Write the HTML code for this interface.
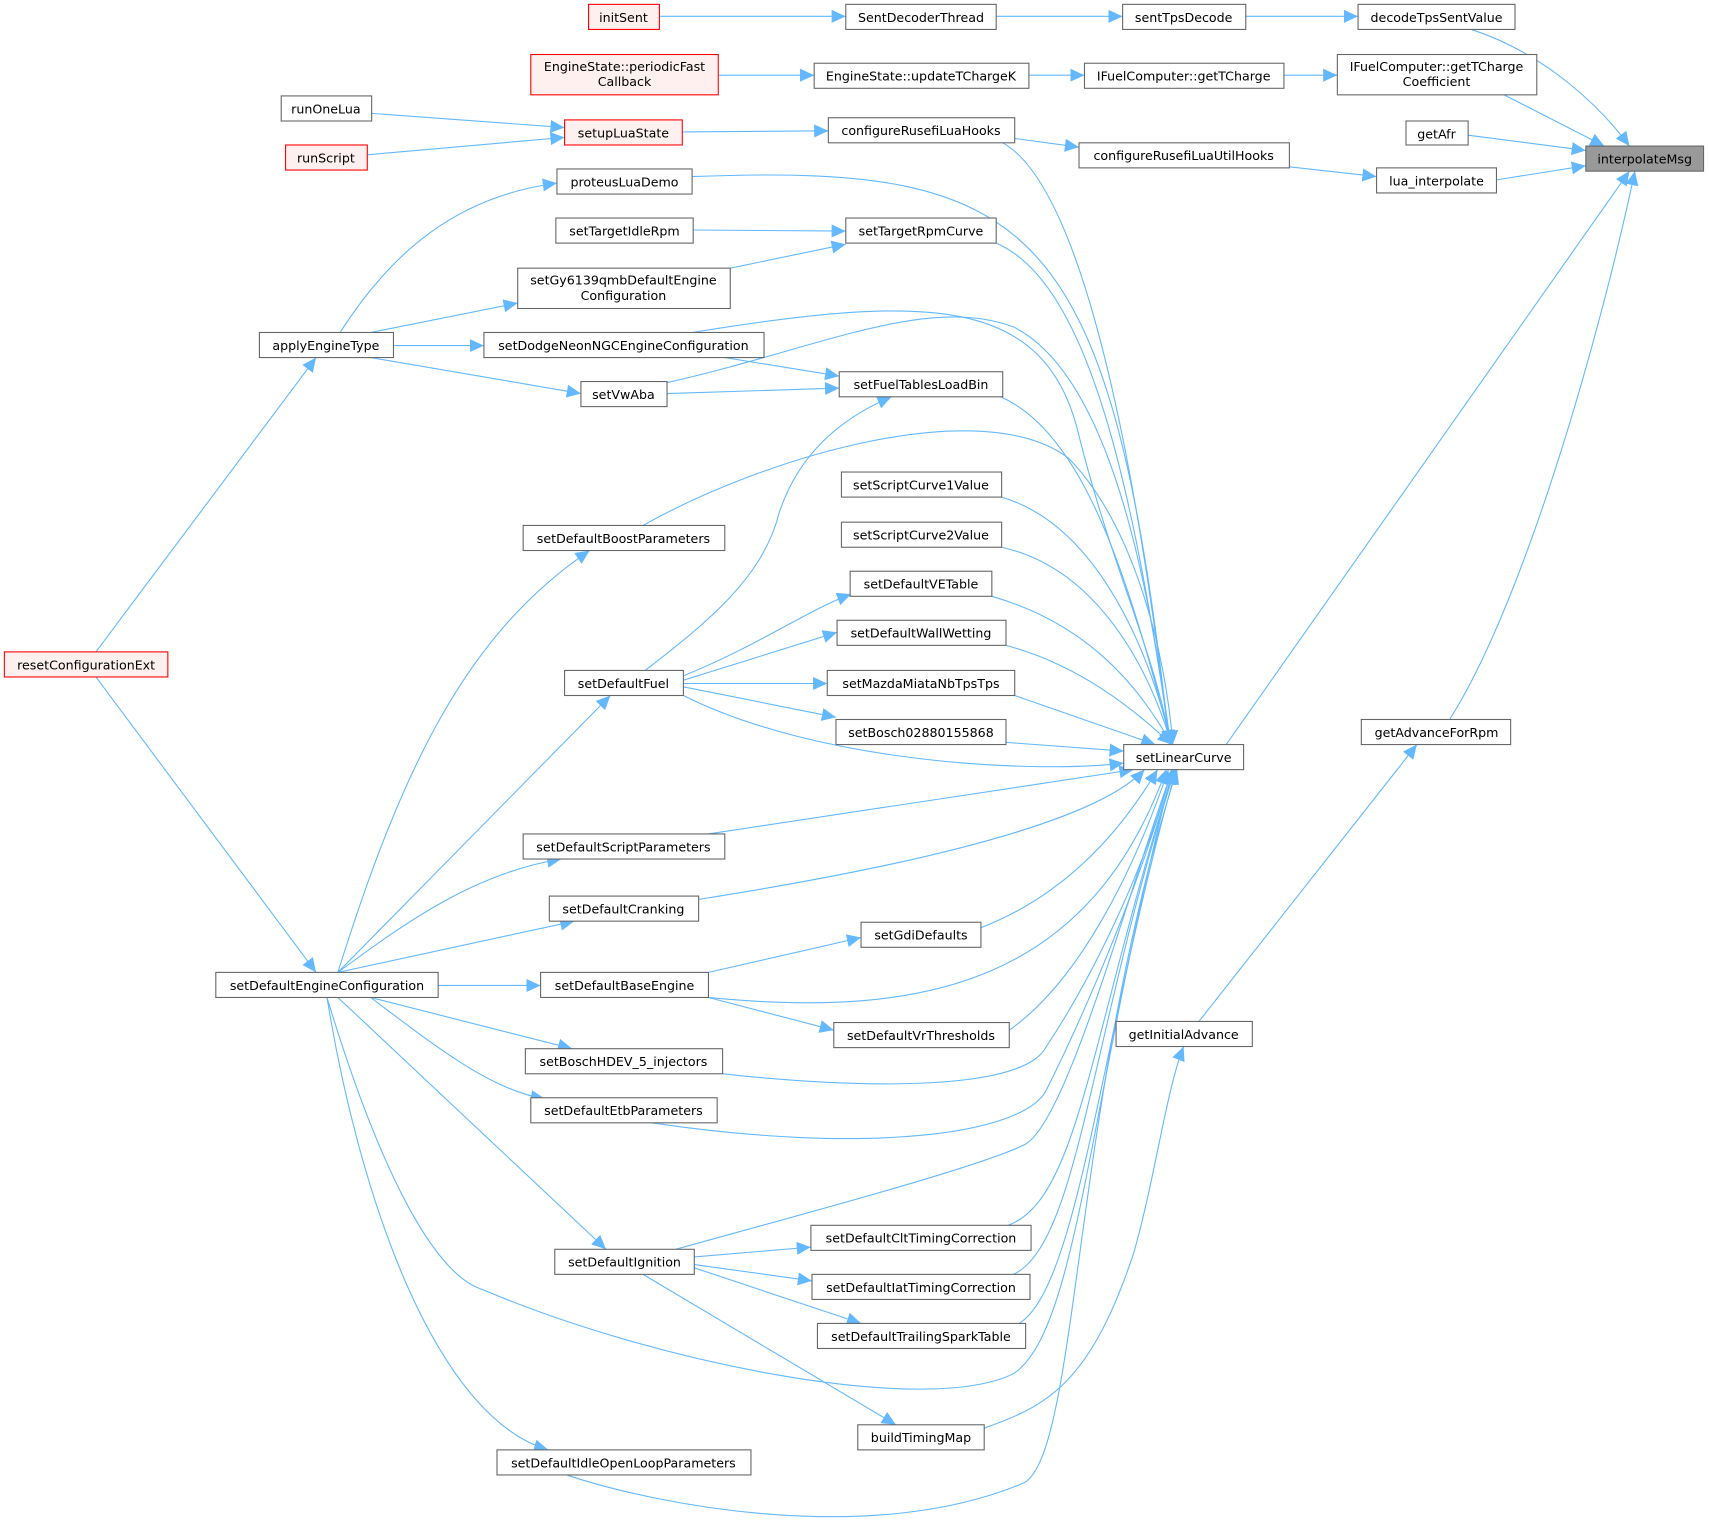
<!DOCTYPE html>
<html><head><meta charset="utf-8"><style>
html,body{margin:0;padding:0;background:#fff;}
svg{display:block;}
text{font-family:"DejaVu Sans","Liberation Sans",sans-serif;font-size:11.6px;fill:#000;text-anchor:middle;}
.n{fill:#fff;stroke:#666;stroke-width:1;}
.r{fill:#fff0f0;stroke:#f00;stroke-width:1;}
.g{fill:#999;stroke:#666;stroke-width:1;}
path.e{fill:none;stroke:#63b8ff;stroke-width:1;marker-end:url(#a);}
</style></head><body>
<svg width="1709" height="1524" viewBox="0 0 1568 1398" preserveAspectRatio="none" xmlns="http://www.w3.org/2000/svg">
<defs><marker id="a" markerUnits="userSpaceOnUse" markerWidth="14" markerHeight="12" refX="13" refY="6" orient="auto"><path d="M0,0 L13,6 L0,12 z" fill="#63b8ff"/></marker></defs>
<g>
<path class="e" d="M605,15 L776,15"/>
<path class="e" d="M914,15 L1030,15"/>
<path class="e" d="M1143,15 L1246,15"/>
<path class="e" d="M1350,27 C1420,50 1470,100 1495,134"/>
<path class="e" d="M659,69 L747,69"/>
<path class="e" d="M944,69 L995,69"/>
<path class="e" d="M1178,69 L1227,69"/>
<path class="e" d="M1380,87 L1472,134"/>
<path class="e" d="M1347,124 L1455,138"/>
<path class="e" d="M1373,165 L1455,152"/>
<path class="e" d="M341,104 L518,117"/>
<path class="e" d="M337,142 L518,126"/>
<path class="e" d="M626,121 L760,120"/>
<path class="e" d="M931,127 L990,135"/>
<path class="e" d="M1183,153 L1263,162"/>
<path class="e" d="M920,131 C990,170 1040,400 1073,683"/>
<path class="e" d="M635,162 C950,150 1020,200 1073,683"/>
<path class="e" d="M312,305 C360,230 420,180 511,168"/>
<path class="e" d="M340,305 L475,278"/>
<path class="e" d="M361,317 L444,317"/>
<path class="e" d="M340,328 L533,361"/>
<path class="e" d="M636,211 L776,212"/>
<path class="e" d="M670,246 L776,224"/>
<path class="e" d="M914,223 C1000,260 1040,450 1074,683"/>
<path class="e" d="M635,305 C850,270 960,270 990,400 C1020,520 1060,600 1074,683"/>
<path class="e" d="M612,351 C750,320 850,270 930,300 C1010,340 1050,500 1074,683"/>
<path class="e" d="M665,328 L770,345"/>
<path class="e" d="M612,361 L770,356"/>
<path class="e" d="M592,615 C650,570 700,530 715,470 C735,410 780,380 818,364"/>
<path class="e" d="M918,364 C1000,400 1040,550 1075,683"/>
<path class="e" d="M919,456 C1000,480 1050,580 1075,683"/>
<path class="e" d="M919,502 C1000,520 1050,600 1075,683"/>
<path class="e" d="M910,547 C990,570 1040,620 1075,683"/>
<path class="e" d="M923,592 C990,610 1040,650 1075,683"/>
<path class="e" d="M931,638 L1060,683"/>
<path class="e" d="M923,681 L1031,689"/>
<path class="e" d="M627,620 C700,590 740,560 781,545"/>
<path class="e" d="M627,624 L768,580"/>
<path class="e" d="M627,627 L759,627"/>
<path class="e" d="M627,630 L767,658"/>
<path class="e" d="M627,638 C750,700 950,710 1031,700"/>
<path class="e" d="M590,482 C700,420 900,360 980,420 C1040,480 1070,600 1076,683"/>
<path class="e" d="M310,892 C370,700 430,580 541,505"/>
<path class="e" d="M310,892 L560,638"/>
<path class="e" d="M310,892 C380,840 440,800 515,788"/>
<path class="e" d="M310,892 L527,845"/>
<path class="e" d="M402,904 L496,904"/>
<path class="e" d="M340,915 L525,962"/>
<path class="e" d="M340,915 C400,960 450,1000 500,1008"/>
<path class="e" d="M310,915 L556,1146"/>
<path class="e" d="M300,915 C330,1100 400,1300 503,1330"/>
<path class="e" d="M300,915 C350,1080 400,1170 443,1183 C600,1250 850,1300 930,1260 C990,1220 1000,1000 1076,706"/>
<path class="e" d="M88,598 L290,328"/>
<path class="e" d="M88,621 L290,892"/>
<path class="e" d="M650,765 L1040,706"/>
<path class="e" d="M641,825 C800,800 1000,760 1050,706"/>
<path class="e" d="M650,892 L790,860"/>
<path class="e" d="M650,915 L765,945"/>
<path class="e" d="M650,915 C850,935 1000,900 1070,706"/>
<path class="e" d="M900,851 C980,820 1030,760 1062,706"/>
<path class="e" d="M926,945 C990,900 1040,800 1072,706"/>
<path class="e" d="M663,985 C800,1000 940,1000 960,960 C1000,900 1050,800 1075,706"/>
<path class="e" d="M598,1030 C800,1060 940,1040 960,1000 C1000,920 1050,800 1075,706"/>
<path class="e" d="M620,1146 C750,1110 900,1070 940,1050 C980,1030 1040,800 1076,706"/>
<path class="e" d="M637,1153 L744,1144"/>
<path class="e" d="M637,1160 L745,1175"/>
<path class="e" d="M637,1163 L790,1214"/>
<path class="e" d="M590,1169 L822,1307"/>
<path class="e" d="M925,1124 C990,1100 1000,950 1077,706"/>
<path class="e" d="M930,1169 C990,1140 1000,950 1078,706"/>
<path class="e" d="M935,1214 C990,1180 1010,950 1079,706"/>
<path class="e" d="M903,1310 C960,1290 1000,1270 1040,1150 C1060,1080 1070,1000 1086,960"/>
<path class="e" d="M520,1353 C600,1380 800,1420 940,1360 C990,1330 985,1000 1080,706"/>
<path class="e" d="M1125,683 L1495,157"/>
<path class="e" d="M1100,937 L1300,683"/>
<path class="e" d="M1330,660 C1400,550 1470,300 1500,157"/>
</g>
<g>
<rect class="n" x="1246" y="4" width="144" height="23"/><text x="1318" y="20">decodeTpsSentValue</text>
<rect class="n" x="1227" y="50" width="183" height="37"/><text x="1318" y="65">IFuelComputer::getTCharge</text><text x="1318" y="79">Coefficient</text>
<rect class="n" x="1290" y="111" width="57" height="22"/><text x="1318" y="127">getAfr</text>
<rect class="g" x="1455" y="134" width="108" height="23"/><text x="1509" y="150">interpolateMsg</text>
<rect class="n" x="1263" y="154" width="110" height="23"/><text x="1318" y="170">lua_interpolate</text>
<rect class="n" x="1249" y="660" width="137" height="23"/><text x="1318" y="676">getAdvanceForRpm</text>
<rect class="n" x="1030" y="4" width="113" height="23"/><text x="1086" y="20">sentTpsDecode</text>
<rect class="n" x="995" y="58" width="183" height="23"/><text x="1086" y="74">IFuelComputer::getTCharge</text>
<rect class="n" x="990" y="131" width="193" height="23"/><text x="1086" y="147">configureRusefiLuaUtilHooks</text>
<rect class="n" x="1031" y="683" width="110" height="23"/><text x="1086" y="699">setLinearCurve</text>
<rect class="n" x="1024" y="937" width="125" height="23"/><text x="1086" y="953">getInitialAdvance</text>
<rect class="n" x="776" y="4" width="138" height="23"/><text x="845" y="20">SentDecoderThread</text>
<rect class="n" x="747" y="58" width="197" height="23"/><text x="845" y="74">EngineState::updateTChargeK</text>
<rect class="n" x="760" y="108" width="171" height="23"/><text x="845" y="124">configureRusefiLuaHooks</text>
<rect class="n" x="776" y="200" width="138" height="23"/><text x="845" y="216">setTargetRpmCurve</text>
<rect class="n" x="770" y="341" width="150" height="23"/><text x="845" y="357">setFuelTablesLoadBin</text>
<rect class="n" x="772" y="433" width="147" height="23"/><text x="845" y="449">setScriptCurve1Value</text>
<rect class="n" x="772" y="479" width="147" height="23"/><text x="845" y="495">setScriptCurve2Value</text>
<rect class="n" x="780" y="524" width="130" height="23"/><text x="845" y="540">setDefaultVETable</text>
<rect class="n" x="768" y="569" width="155" height="23"/><text x="845" y="585">setDefaultWallWetting</text>
<rect class="n" x="759" y="615" width="172" height="23"/><text x="845" y="631">setMazdaMiataNbTpsTps</text>
<rect class="n" x="767" y="660" width="156" height="23"/><text x="845" y="676">setBosch02880155868</text>
<rect class="n" x="790" y="846" width="110" height="23"/><text x="845" y="862">setGdiDefaults</text>
<rect class="n" x="765" y="938" width="161" height="23"/><text x="845" y="954">setDefaultVrThresholds</text>
<rect class="n" x="744" y="1124" width="202" height="23"/><text x="845" y="1140">setDefaultCltTimingCorrection</text>
<rect class="n" x="745" y="1169" width="200" height="23"/><text x="845" y="1185">setDefaultIatTimingCorrection</text>
<rect class="n" x="750" y="1214" width="191" height="23"/><text x="845" y="1230">setDefaultTrailingSparkTable</text>
<rect class="n" x="787" y="1307" width="116" height="23"/><text x="845" y="1323">buildTimingMap</text>
<rect class="r" x="540" y="4" width="65" height="23"/><text x="572" y="20">initSent</text>
<rect class="r" x="487" y="50" width="172" height="37"/><text x="573" y="65">EngineState::periodicFast</text><text x="573" y="79">Callback</text>
<rect class="r" x="518" y="110" width="108" height="23"/><text x="572" y="126">setupLuaState</text>
<rect class="n" x="511" y="155" width="124" height="23"/><text x="573" y="171">proteusLuaDemo</text>
<rect class="n" x="510" y="200" width="126" height="23"/><text x="573" y="216">setTargetIdleRpm</text>
<rect class="n" x="475" y="246" width="195" height="37"/><text x="572" y="261">setGy6139qmbDefaultEngine</text><text x="572" y="275">Configuration</text>
<rect class="n" x="444" y="305" width="257" height="23"/><text x="572" y="321">setDodgeNeonNGCEngineConfiguration</text>
<rect class="n" x="533" y="350" width="79" height="23"/><text x="572" y="366">setVwAba</text>
<rect class="n" x="480" y="482" width="185" height="23"/><text x="572" y="498">setDefaultBoostParameters</text>
<rect class="n" x="518" y="615" width="109" height="23"/><text x="572" y="631">setDefaultFuel</text>
<rect class="n" x="480" y="765" width="185" height="23"/><text x="572" y="781">setDefaultScriptParameters</text>
<rect class="n" x="504" y="822" width="137" height="23"/><text x="572" y="838">setDefaultCranking</text>
<rect class="n" x="496" y="892" width="154" height="23"/><text x="573" y="908">setDefaultBaseEngine</text>
<rect class="n" x="482" y="962" width="181" height="23"/><text x="572" y="978">setBoschHDEV_5_injectors</text>
<rect class="n" x="487" y="1007" width="171" height="23"/><text x="572" y="1023">setDefaultEtbParameters</text>
<rect class="n" x="509" y="1146" width="128" height="23"/><text x="573" y="1162">setDefaultIgnition</text>
<rect class="n" x="456" y="1330" width="233" height="23"/><text x="572" y="1346">setDefaultIdleOpenLoopParameters</text>
<rect class="n" x="258" y="88" width="83" height="23"/><text x="299" y="104">runOneLua</text>
<rect class="r" x="262" y="133" width="75" height="23"/><text x="299" y="149">runScript</text>
<rect class="n" x="238" y="305" width="123" height="23"/><text x="299" y="321">applyEngineType</text>
<rect class="n" x="198" y="892" width="204" height="23"/><text x="300" y="908">setDefaultEngineConfiguration</text>
<rect class="r" x="4" y="598" width="150" height="23"/><text x="79" y="614">resetConfigurationExt</text>
</g>
</svg>
</body></html>
